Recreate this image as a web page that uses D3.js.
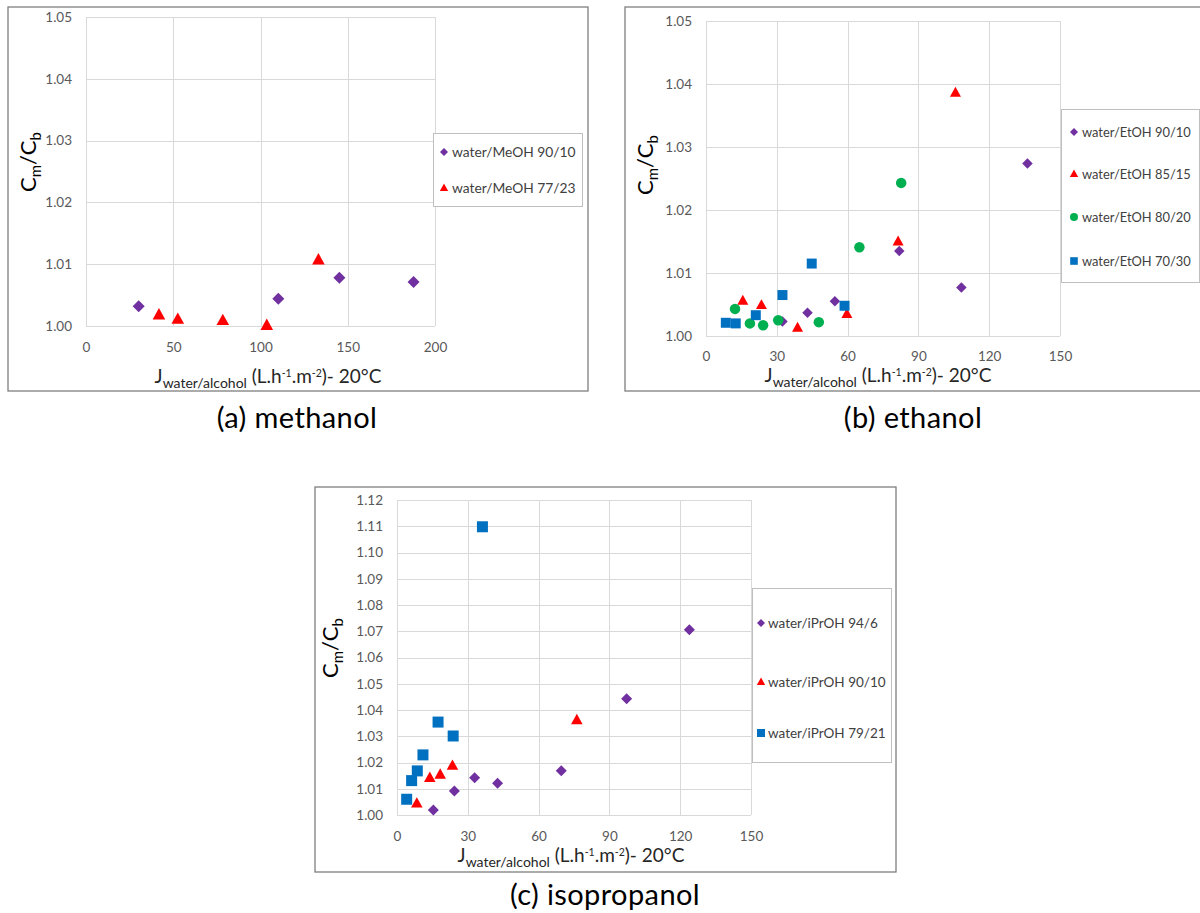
<!DOCTYPE html>
<html><head><meta charset="utf-8">
<script src="https://cdn.jsdelivr.net/npm/d3@7"></script>
<style>
body{margin:0;background:#fff}
svg{display:block}
text{font-family:Lato,"Open Sans",sans-serif}
</style>
</head><body>
<svg id="c" width="1200" height="913"></svg>
<script>
// ---------- DATA ----------
// (a) methanol
const meXTicks = [0, 50, 100, 150, 200];
const meYTicks = [1.00, 1.01, 1.02, 1.03, 1.04, 1.05];
const me9010J = [30.2, 110.2, 145.2, 187.7];
const me9010C = [1.0032, 1.0044, 1.0078, 1.0071];
const me7723J = [41.8, 52.6, 78.4, 103.6, 133.2];
const me7723C = [1.0018, 1.0011, 1.0009, 1.0001, 1.0107];
const meLabels = ["water/MeOH 90/10", "water/MeOH 77/23"];

// (b) ethanol
const etXTicks = [0, 30, 60, 90, 120, 150];
const etYTicks = [1.00, 1.01, 1.02, 1.03, 1.04, 1.05];
const et9010J = [32.4, 43.0, 54.6, 81.9, 108.2, 136.2];
const et9010C = [1.0023, 1.0037, 1.0055, 1.0135, 1.0077, 1.0274];
const et8515J = [15.6, 23.5, 38.8, 59.7, 81.4, 105.7];
const et8515C = [1.0056, 1.0049, 1.0013, 1.0035, 1.0150, 1.0386];
const et8020J = [12.3, 18.6, 24.2, 30.6, 47.8, 65.0, 82.7];
const et8020C = [1.0043, 1.0020, 1.0017, 1.0025, 1.0022, 1.0141, 1.0243];
const et7030J = [8.4, 12.6, 21.1, 32.4, 44.8, 58.7];
const et7030C = [1.0021, 1.0020, 1.0033, 1.0065, 1.0115, 1.0048];
const etLabels = ["water/EtOH 90/10", "water/EtOH 85/15", "water/EtOH 80/20", "water/EtOH 70/30"];

// (c) isopropanol
const ipXTicks = [0, 30, 60, 90, 120, 150];
const ipYTicks = [1.00, 1.01, 1.02, 1.03, 1.04, 1.05, 1.06, 1.07, 1.08, 1.09, 1.10, 1.11, 1.12];
const ip946J = [15.4, 24.3, 32.9, 42.6, 69.6, 97.3, 123.9];
const ip946C = [1.0019, 1.0091, 1.0142, 1.0121, 1.0169, 1.0443, 1.0706];
const ip9010J = [8.4, 13.9, 18.3, 23.5, 76.2];
const ip9010C = [1.0044, 1.0142, 1.0154, 1.0188, 1.0362];
const ip7921J = [4.1, 6.2, 8.6, 11.0, 17.4, 23.8, 36.2];
const ip7921C = [1.0060, 1.0131, 1.0168, 1.0229, 1.0354, 1.0301, 1.1098];
const ipLabels = ["water/iPrOH 94/6", "water/iPrOH 90/10", "water/iPrOH 79/21"];

const captions = ["(a) methanol", "(b) ethanol", "(c) isopropanol"];

// ---------- STYLE ----------
const COL = {purple: "#7030a0", red: "#ff0000", green: "#00b050", blue: "#0070c0"};

function markerPath(shape, s) {
  const r = s / 2;
  if (shape === "diamond") return `M0,${-r}L${r},0L0,${r}L${-r},0Z`;
  if (shape === "triangle") { const h = s * 0.9; return `M0,${-h*0.6}L${r},${h*0.4}L${-r},${h*0.4}Z`; }
  if (shape === "square") return `M${-r},${-r}H${r}V${r}H${-r}Z`;
  if (shape === "circle") return d3.symbol(d3.symbolCircle, Math.PI * r * r)();
}

const svg = d3.select("#c");

function panel(cfg) {
  const g = svg.append("g");
  const f = cfg.frame;
  g.append("rect").attr("x", f[0]).attr("y", f[1]).attr("width", f[2] - f[0]).attr("height", f[3] - f[1])
    .attr("fill", "#fff").attr("stroke", "#7f7f7f").attr("stroke-width", 1.3);

  const x = d3.scaleLinear().domain(d3.extent(cfg.xTicks)).range([cfg.plot[0], cfg.plot[2]]);
  const y = d3.scaleLinear().domain(d3.extent(cfg.yTicks)).range([cfg.plot[3], cfg.plot[1]]);

  g.append("g").selectAll("line").data(cfg.yTicks).join("line")
    .attr("x1", cfg.plot[0]).attr("x2", cfg.plot[2])
    .attr("y1", d => Math.round(y(d)) + 0.5).attr("y2", d => Math.round(y(d)) + 0.5)
    .attr("stroke", "#d9d9d9").attr("stroke-width", 1);
  g.append("g").selectAll("line").data(cfg.xTicks).join("line")
    .attr("y1", cfg.plot[1]).attr("y2", cfg.plot[3])
    .attr("x1", d => Math.round(x(d)) + 0.5).attr("x2", d => Math.round(x(d)) + 0.5)
    .attr("stroke", "#d9d9d9").attr("stroke-width", 1);

  const ax = g.append("g").attr("transform", `translate(0,${cfg.plot[3]})`)
    .call(d3.axisBottom(x).tickValues(cfg.xTicks).tickFormat(d3.format("d")).tickSize(0).tickPadding(cfg.xPad || 16));
  const ay = g.append("g").attr("transform", `translate(${cfg.plot[0]},0)`)
    .call(d3.axisLeft(y).tickValues(cfg.yTicks).tickFormat(d3.format(".2f")).tickSize(0).tickPadding(14));
  [ax, ay].forEach(a => {
    a.select(".domain").remove();
    a.selectAll("text").attr("font-family", "Lato, sans-serif").attr("font-size", 13.5).attr("fill", "#595959");
  });

  // series
  cfg.series.forEach(s => {
    const pts = s.J.map((v, i) => [v, s.C[i]]);
    g.append("g").selectAll("path").data(pts).join("path")
      .attr("d", markerPath(s.shape, cfg.msize * (s.scale || 1)))
      .attr("transform", d => `translate(${x(d[0])},${y(d[1])})`)
      .attr("fill", s.color);
  });

  // legend
  const L = cfg.legend;
  g.append("rect").attr("x", L.box[0] + 0.5).attr("y", L.box[1] + 0.5)
    .attr("width", L.box[2] - L.box[0]).attr("height", L.box[3] - L.box[1])
    .attr("fill", "#fff").attr("stroke", "#bfbfbf").attr("stroke-width", 1);
  cfg.series.forEach((s, i) => {
    const yy = L.ys[i];
    g.append("path").attr("d", markerPath(s.shape, 8 * (s.scale || 1)))
      .attr("transform", `translate(${L.mx},${yy})`).attr("fill", s.color);
    g.append("text").attr("x", L.tx).attr("y", yy).attr("dy", "0.36em")
      .attr("font-size", L.fs).attr("fill", "#404040").text(cfg.labels[i]);
  });

  // y title
  const yt = g.append("text").attr("transform", `translate(${cfg.yTitle[0]},${cfg.yTitle[1]}) rotate(-90)`)
    .attr("text-anchor", "middle").attr("fill", "#000").attr("font-size", 22);
  yt.append("tspan").text("C");
  yt.append("tspan").attr("font-size", 15).attr("dy", 5).text("m");
  yt.append("tspan").attr("dy", -5).text("/C");
  yt.append("tspan").attr("font-size", 15).attr("dy", 5).text("b");

  // x title
  const xt = g.append("text").attr("x", cfg.xTitle[0]).attr("y", cfg.xTitle[1])
    .attr("text-anchor", "middle").attr("fill", "#262626").attr("font-size", 19);
  xt.append("tspan").text("J");
  xt.append("tspan").attr("font-size", 14).attr("dy", 5).text("water/alcohol");
  xt.append("tspan").attr("dy", -5).text(" (L.h");
  xt.append("tspan").attr("font-size", 10.5).attr("dy", -6).text("-1");
  xt.append("tspan").attr("dy", 6).text(".m");
  xt.append("tspan").attr("font-size", 10.5).attr("dy", -6).text("-2");
  xt.append("tspan").attr("dy", 6).text(")- 20°C");

  // caption
  svg.append("text").attr("x", cfg.caption[0]).attr("y", cfg.caption[1]).attr("text-anchor", "middle")
    .attr("font-size", 29).attr("letter-spacing", 0.4).attr("fill", "#000").text(cfg.captionText);
}

panel({
  frame: [8, 7, 588, 391], plot: [86, 17, 435, 326],
  xTicks: meXTicks, yTicks: meYTicks, msize: 12, labels: meLabels,
  series: [
    {J: me9010J, C: me9010C, shape: "diamond", color: COL.purple},
    {J: me7723J, C: me7723C, shape: "triangle", color: COL.red, scale: 1.05}
  ],
  legend: {box: [433, 133, 582, 206], ys: [152, 188], mx: 444, tx: 452, fs: 13.8},
  yTitle: [36, 162], xTitle: [268, 383], caption: [297, 428], captionText: captions[0]
});

panel({
  frame: [625, 7, 1215, 391], plot: [706, 21, 1060, 336], xPad: 15,
  xTicks: etXTicks, yTicks: etYTicks, msize: 10.5, labels: etLabels,
  series: [
    {J: et9010J, C: et9010C, shape: "diamond", color: COL.purple},
    {J: et8515J, C: et8515C, shape: "triangle", color: COL.red, scale: 1.05},
    {J: et8020J, C: et8020C, shape: "circle", color: COL.green},
    {J: et7030J, C: et7030C, shape: "square", color: COL.blue, scale: 0.95}
  ],
  legend: {box: [1061, 109, 1199, 282], ys: [132, 174, 217, 261], mx: 1074, tx: 1082, fs: 12.9},
  yTitle: [653, 165], xTitle: [878, 382], caption: [913, 428], captionText: captions[1]
});

panel({
  frame: [315, 487, 896, 872], plot: [397, 500, 751, 815],
  xTicks: ipXTicks, yTicks: ipYTicks, msize: 11, labels: ipLabels,
  series: [
    {J: ip946J, C: ip946C, shape: "diamond", color: COL.purple},
    {J: ip9010J, C: ip9010C, shape: "triangle", color: COL.red, scale: 1.05},
    {J: ip7921J, C: ip7921C, shape: "square", color: COL.blue}
  ],
  legend: {box: [752, 588, 891, 762], ys: [623, 682, 733], mx: 761, tx: 768, fs: 13.5},
  yTitle: [338, 648], xTitle: [571, 862], caption: [605, 905], captionText: captions[2]
});
</script>
</body></html>
